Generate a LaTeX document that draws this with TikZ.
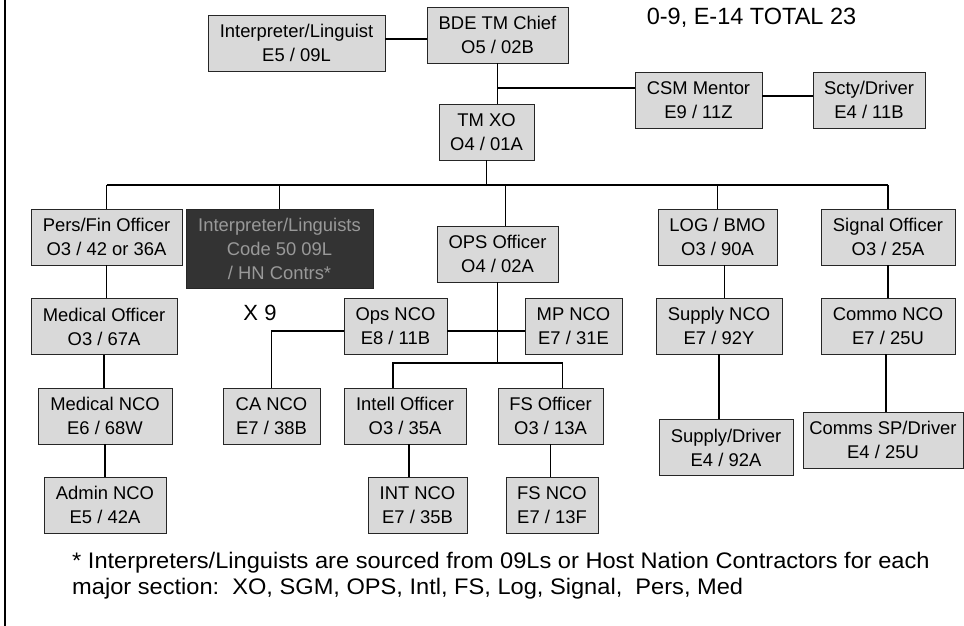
\documentclass[tikz,border=0pt]{standalone}
\usepackage{fontspec}
\setmainfont{Liberation Sans}
\newfontfamily\notefont[FakeStretch=1.05]{Liberation Sans}
\usepackage{tikz}
\usetikzlibrary{
	calc,
	positioning
	}
\tikzstyle{poste-std}=[draw=black!85,fill=black!15,line width=0.9pt,rectangle,inner sep=0pt,minimum height=56pt,align=center,font=\fontsize{18.4}{24}\selectfont]
\tikzstyle{poste-sombre}=[poste-std,fill=black!80,text=black!40,minimum height=79pt]
\tikzstyle{texte-std}=[inner sep=0pt,font=\fontsize{23.5}{26}\selectfont]
\tikzstyle{lien-std}=[line width=1.8pt]

\begin{document}
\begin{tikzpicture}[x=1pt,y=-1pt]
\useasboundingbox (0,0) rectangle (964,626);
\draw[lien-std] (5,0) -- (5,626);

\node[poste-std,minimum width=177pt] (interp) at (296.5,43) {Interpreter/Linguist\\E5 / 09L};
\node[poste-std,minimum width=141pt] (chef) at (497.5,35) {BDE TM Chief\\O5 / 02B};
\node[poste-std,minimum width=127pt] (csm) at (698.5,100) {CSM Mentor\\E9 / 11Z};
\node[poste-std,minimum width=112pt] (scty) at (869,100) {Scty/Driver\\E4 / 11B};
\node[poste-std,minimum width=95pt] (xo) at (486.5,132) {TM XO\\O4 / 01A};
\node[poste-std,minimum width=151pt] (pers) at (106.5,237) {Pers/Fin Officer\\O3 / 42 or 36A};
\node[poste-sombre,minimum width=187pt] (interp9) at (279.5,248.5) {Interpreter/Linguists\\Code 50 09L\\/ HN Contrs*};
\node[poste-std,minimum width=121pt] (ops) at (497.5,254) {OPS Officer\\O4 / 02A};
\node[poste-std,minimum width=119pt] (log) at (717.5,237) {LOG / BMO\\O3 / 90A};
\node[poste-std,minimum width=134pt] (signal) at (888,237) {Signal Officer\\O3 / 25A};
\node[poste-std,minimum width=146pt] (med) at (104,326.5) {Medical Officer\\O3 / 67A};
\node[poste-std,minimum width=103pt] (opsnco) at (395.5,326) {Ops NCO\\E8 / 11B};
\node[poste-std,minimum width=97pt] (mpnco) at (573.5,326) {MP NCO\\E7 / 31E};
\node[poste-std,minimum width=126pt] (supnco) at (719,326) {Supply NCO\\E7 / 92Y};
\node[poste-std,minimum width=134pt] (comnco) at (888,326) {Commo NCO\\E7 / 25U};
\node[poste-std,minimum width=134pt] (mednco) at (105,416) {Medical NCO\\E6 / 68W};
\node[poste-std,minimum width=97pt] (canco) at (271.5,416) {CA NCO\\E7 / 38B};
\node[poste-std,minimum width=122pt] (intoff) at (405,416) {Intell Officer\\O3 / 35A};
\node[poste-std,minimum width=105pt] (fsoff) at (550.5,416) {FS Officer\\O3 / 13A};
\node[poste-std,minimum width=134pt] (supdrv) at (726,447.5) {Supply/Driver\\E4 / 92A};
\node[poste-std,minimum width=160pt] (comdrv) at (883,440) {Comms SP/Driver\\E4 / 25U};
\node[poste-std,minimum width=122pt] (admin) at (105,505) {Admin NCO\\E5 / 42A};
\node[poste-std,minimum width=99pt] (intnco) at (417.5,505) {INT NCO\\E7 / 35B};
\node[poste-std,minimum width=92pt] (fsnco) at (552,505) {FS NCO\\E7 / 13F};

\node[texte-std] (total) at (751.5,18) {0-9, E-14 TOTAL 23};
\node[texte-std,font=\fontsize{22}{26}\selectfont] (fois) at (260,313) {X 9};
\node[texte-std,anchor=west,align=left,font=\notefont\fontsize{22.5}{26}\selectfont] (note) at (72,575.5) {* Interpreters/Linguists are sourced from 09Ls or Host Nation Contractors for each\\major section:\ \ XO, SGM, OPS, Intl, FS, Log, Signal,\ \ Pers, Med};

\coordinate (bus) at (490,185);
\coordinate (sousbus) at (498,363);
\coordinate (branche) at (499,88);

\draw[lien-std] ([yshift=4pt]interp.east) -- ([yshift=4pt]interp.east -| chef.west);
\draw[lien-std] (chef.south) -- (chef.south |- xo.north);
\draw[lien-std] (chef.south |- branche) -- (branche -| csm.west);
\draw[lien-std] ([yshift=4pt]csm.east) -- ([yshift=4pt]csm.east -| scty.west);
\draw[lien-std] (xo.south) -- (xo.south |- bus);
\draw[lien-std] (pers.north |- bus) -- (signal.north |- bus);
\foreach \n in {pers,interp9,log,signal}
	\draw[lien-std] (\n.north) -- (\n.north |- bus);
\draw[lien-std] ([xshift=8pt]ops.north) -- ([xshift=8pt]ops.north |- bus);
\draw[lien-std] (pers.south) -- (pers.south |- med.north);
\draw[lien-std] (med.south) -- (med.south |- mednco.north);
\draw[lien-std] (mednco.south) -- (mednco.south |- admin.north);
\draw[lien-std] (ops.south) -- (ops.south |- sousbus);
\draw[lien-std] ([xshift=-12pt]intoff.north) |- (sousbus) -| ([xshift=12pt]fsoff.north);
\draw[lien-std] (canco.north) |- ([yshift=-5pt]opsnco.west);
\draw[lien-std] ([yshift=-5pt]opsnco.east) -- ([yshift=-5pt]mpnco.west);
\draw[lien-std] ([xshift=4pt]intoff.south) -- ([xshift=4pt]intoff.south |- intnco.north);
\draw[lien-std] (fsoff.south) -- (fsoff.south |- fsnco.north);
\draw[lien-std] ([xshift=7pt]log.south) -- ([xshift=7pt]log.south |- supnco.north);
\draw[lien-std] (supnco.south) -- (supnco.south |- supdrv.north);
\draw[lien-std] (signal.south) -- (signal.south |- comnco.north);
\draw[lien-std] ([xshift=-2pt]comnco.south) -- ([xshift=-2pt]comnco.south |- comdrv.north);
\end{tikzpicture}
\end{document}
